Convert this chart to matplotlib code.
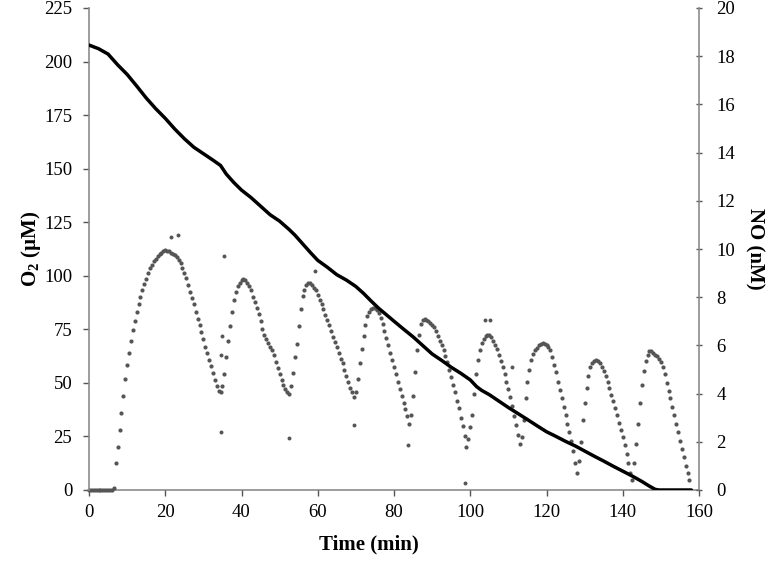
import numpy as np
import matplotlib
matplotlib.use("Agg")
import matplotlib.pyplot as plt

# ---------------- data ----------------
# O2 trace (left axis, µM)
o2_time = [0, 2.5, 5, 7.5, 10, 12.5, 15, 17.5, 20, 22.5, 25, 27.5, 30, 32.5,
           34.5, 36, 38, 40, 42.5, 45, 47.5, 50, 52.5, 54, 56, 58, 60, 62.5,
           65, 67.5, 70, 72, 74, 76, 78, 80, 82.5, 85, 87.5, 90, 92.5, 95,
           97.5, 100, 101.7, 103, 105, 107.5, 110, 112.5, 115, 117.5, 120,
           122.5, 125, 127.5, 130, 132.5, 135, 137.5, 140, 142.5, 145, 147,
           148.5, 149.5, 158]
o2_value = [207.7, 206, 203.5, 198.5, 194, 188.6, 183, 178, 173.5, 168.5, 164,
            160, 157, 154, 151.5, 147.5, 143.5, 140, 136.5, 132.5, 128.5,
            125.5, 121.6, 119, 115, 111, 107.2, 104, 100.5, 98, 95, 91.8,
            88.2, 84.8, 81.8, 78.8, 75.1, 71.5, 67.5, 63.5, 60.5, 57.3, 54.5,
            51.4, 48.2, 46.5, 44.5, 41.5, 38.5, 35.7, 32.9, 30, 27.2, 25,
            22.7, 20.6, 18.2, 15.8, 13.5, 11.1, 8.8, 6.5, 4, 1.8, 0.3, 0, 0]

# NO trace (right axis, nM), sampled every 0.5 min from 0 to 157.5 min
no_start = 0.0
no_step = 0.5
no_a = [0, 0, 0, 0, 0, 0, 0, 0, 0, 0, 0, 0, 0, 0.1,
        1.1, 1.8, 2.5, 3.2, 3.9, 4.6, 5.2, 5.7, 6.2, 6.65, 7.0, 7.4, 7.7, 8.0,
        8.3, 8.55, 8.75, 9.0, 9.2, 9.35, 9.5, 9.6, 9.7, 9.8, 9.85, 9.9, 9.95,
        9.9, 9.9, 9.85, 9.8, 9.75, 9.65, 9.55, 9.4, 9.2, 9.0, 8.8, 8.5, 8.2,
        7.95, 7.7, 7.4, 7.1, 6.85, 6.55, 6.25, 5.95, 5.7, 5.4, 5.15, 4.85,
        4.55, 4.3, 4.1, 4.05, 4.3, 4.8, 5.5, 6.2, 6.8, 7.4, 7.9, 8.2, 8.45, 8.6]
no_b = [8.7, 8.75, 8.7, 8.6, 8.45, 8.3, 8.0, 7.8, 7.55, 7.3, 7.0, 6.7, 6.45,
        6.25, 6.1, 5.95, 5.8, 5.6, 5.3, 5.05, 4.8, 4.55, 4.35, 4.2, 4.05, 4.0,
        4.3, 4.85, 5.5, 6.05, 6.8, 7.5, 8.05, 8.3, 8.5, 8.6, 8.6, 8.5, 8.4, 8.3,
        8.1, 7.9, 7.7, 7.5, 7.25, 7.05, 6.85, 6.6, 6.35, 6.15, 5.95, 5.7, 5.45,
        5.25, 5.0, 4.75, 4.5, 4.25, 4.05, 3.85, 4.05, 4.6, 5.25, 5.85, 6.4,
        6.85, 7.2, 7.4, 7.5, 7.55, 7.55, 7.45, 7.35, 7.15, 6.9, 6.6, 6.3, 6.0,
        5.7, 5.4]
no_c = [5.1, 4.8, 4.5, 4.2, 3.9, 3.6, 3.35, 3.05, 2.75, 3.1, 3.9, 4.9, 5.8,
        6.45, 6.9, 7.05, 7.1, 7.05, 7.0, 6.95, 6.85, 6.75, 6.6, 6.4, 6.2, 6.0,
        5.8, 5.55, 5.3, 5.0, 4.7, 4.35, 4.05, 3.7, 3.4, 3.0, 2.65, 2.25, 1.8,
        2.1, 2.6, 3.1, 4.0, 4.8, 5.4, 5.8, 6.1, 6.25, 6.4, 6.45, 6.45, 6.35,
        6.2, 6.0, 5.85, 5.6, 5.35, 5.1, 4.8, 4.5, 4.2, 3.85, 3.5, 3.05, 2.7,
        2.3, 1.9, 2.2, 2.9, 3.8, 4.5, 5.0, 5.4, 5.65, 5.8, 5.9, 6.0, 6.05, 6.1,
        6.05]
no_d = [6.0, 5.95, 5.8, 5.5, 5.2, 4.9, 4.5, 4.15, 3.8, 3.45, 3.1, 2.75, 2.4,
        2.05, 1.6, 1.1, 0.7, 1.2, 2.0, 2.9, 3.6, 4.25, 4.75, 5.1, 5.25, 5.35,
        5.4, 5.35, 5.25, 5.1, 4.95, 4.75, 4.5, 4.25, 3.95, 3.7, 3.4, 3.1, 2.8,
        2.5, 2.2, 1.85, 1.5, 1.1, 0.7, 0.4, 1.1, 1.9, 2.75, 3.6, 4.35, 4.95,
        5.35, 5.6, 5.75, 5.75, 5.7, 5.6, 5.55, 5.45, 5.3, 5.1, 4.8, 4.45, 4.1,
        3.8, 3.45, 3.1, 2.75, 2.4, 2.05, 1.7, 1.35, 1.0, 0.7, 0.4]

# isolated NO readings away from the main trace
no_out_time = [21.4, 23.4, 35.4, 34.7, 34.8, 34.5, 59.2, 52.5, 69.5, 83.7,
               98.6, 103.8, 105.2, 110.9]
no_out_value = [10.5, 10.6, 9.7, 2.4, 6.4, 5.6, 9.1, 2.15, 2.7, 1.87,
                0.3, 7.05, 7.05, 5.1]

x_ticks = [0, 20, 40, 60, 80, 100, 120, 140, 160]
o2_ticks = [0, 25, 50, 75, 100, 125, 150, 175, 200, 225]
no_ticks = [0, 2, 4, 6, 8, 10, 12, 14, 16, 18, 20]

# ---------------- plot ----------------
plt.rcParams['font.family'] = ['Liberation Serif', 'DejaVu Serif']
plt.rcParams['mathtext.fontset'] = 'custom'
plt.rcParams['mathtext.rm'] = 'Liberation Serif:bold'
plt.rcParams['mathtext.it'] = 'Liberation Serif:bold'
plt.rcParams['mathtext.bf'] = 'Liberation Serif:bold'
plt.rcParams['mathtext.default'] = 'rm'

fig = plt.figure(figsize=(7.75, 5.64), dpi=100)
ax = fig.add_axes([89 / 775, 74 / 564, 610 / 775, 482 / 564])
ax2 = ax.twinx()

no_value = no_a + no_b + no_c + no_d
no_time = no_start + no_step * np.arange(len(no_value))

ax2.scatter(no_time, no_value, s=9, color='#555555', linewidths=0, zorder=3,
            clip_on=False)
ax2.scatter(no_out_time, no_out_value, s=8, color='#555555', linewidths=0,
            zorder=3)

ax.plot(o2_time, o2_value, color='black', lw=2.5, zorder=3,
        solid_joinstyle='round', solid_capstyle='round')
ax.set_zorder(ax2.get_zorder() + 1)
ax.patch.set_visible(False)

ax.set_xlim(0, 160)
ax.set_ylim(0, 225)
ax2.set_ylim(0, 20)
ax.set_xticks(x_ticks)
ax.set_yticks(o2_ticks)
ax2.set_yticks(no_ticks)

spine_col = '#8c8c8c'
for a in (ax, ax2):
    for s in a.spines.values():
        s.set_color(spine_col)
        s.set_linewidth(1.2)
    a.spines['top'].set_visible(False)
ax.spines['right'].set_visible(False)
ax.spines['bottom'].set_visible(False)
ax2.spines['left'].set_visible(False)
ax2.spines['bottom'].set_zorder(1)

ax.tick_params(axis='both', labelsize=13.5, color='#555555', length=4, width=1,
               direction='out')
ax.tick_params(axis='x', pad=6)
ax.tick_params(axis='y', pad=8)
ax2.tick_params(axis='y', labelsize=13.5, color='#555555', length=5, width=1,
                direction='inout', pad=10)

ax.set_xlabel('Time (min)', fontsize=15, fontweight='bold')
ax.xaxis.set_label_coords(0.459, -0.092)
ax.set_ylabel('O$_2$ (µM)', fontsize=15, fontweight='bold')
ax.yaxis.set_label_coords(-0.076, 0.5)
ax2.set_ylabel('NO (nM)', fontsize=15, fontweight='bold', rotation=270,
               labelpad=0)
ax2.yaxis.set_label_coords(1.108, 0.5)

fig.savefig('out.png', dpi=100)
